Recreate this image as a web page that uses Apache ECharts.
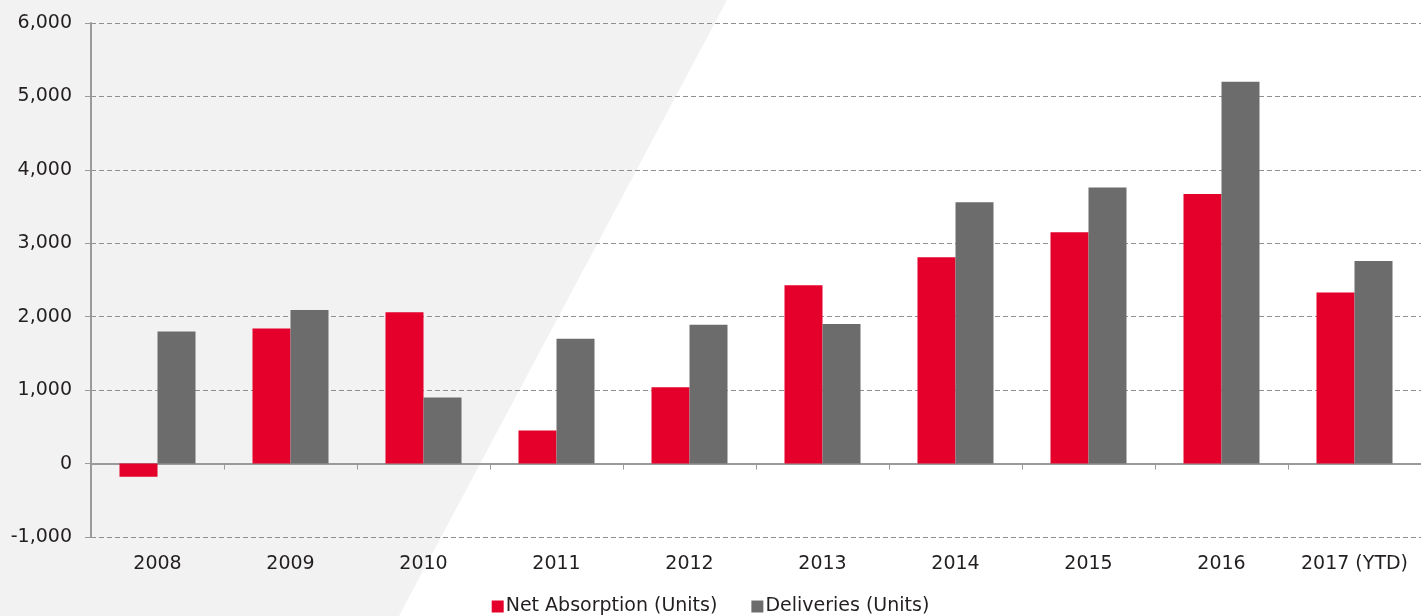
<!DOCTYPE html>
<html>
<head>
<meta charset="utf-8">
<script src="https://cdn.jsdelivr.net/npm/echarts@6/dist/echarts.min.js"></script>
<style>
html,body{margin:0;padding:0;background:#fff;}
#chart{width:1421px;height:616px;}
</style>
</head>
<body>
<div id="chart"></div>
<script>
const categories = ['2008','2009','2010','2011','2012','2013','2014','2015','2016','2017 (YTD)'];
const netAbsorption = [-180, 1840, 2060, 450, 1040, 2430, 2810, 3150, 3670, 2330];
const deliveries = [1800, 2090, 900, 1700, 1890, 1900, 3560, 3760, 5200, 2760];
const seriesNames = ['Net Absorption (Units)', 'Deliveries (Units)'];

const FONT = 'DejaVu Sans';
const FS = 19;
const TXT = '#231f20';
const chart = echarts.init(document.getElementById('chart'), null, {renderer:'canvas'});
chart.setOption({
  animation:false,
  backgroundColor:'#ffffff',
  graphic:[{
    type:'polygon', z:-10, silent:true,
    shape:{points:[[0,0],[727,0],[399,616],[0,616]]},
    style:{fill:'#f2f2f2'}
  }],
  legend:{
    top:597, left:'center', padding:0,
    itemWidth:12, itemHeight:12, itemGap:34, icon:'rect',
    textStyle:{fontFamily:FONT, fontSize:FS, color:TXT, padding:[0,0,0,-3]},
    data:seriesNames
  },
  grid:{left:91, right:0, top:23, bottom:79, containLabel:false},
  xAxis:[{
    type:'category', data:categories, position:'bottom',
    axisLine:{show:false, onZero:false},
    axisTick:{show:false},
    axisLabel:{fontFamily:FONT, fontSize:FS, color:TXT, margin:18, interval:0},
    splitLine:{show:false}
  },{
    type:'category', data:categories, position:'bottom',
    axisLine:{show:true, onZero:true, lineStyle:{color:'#9a9a9a', width:2}},
    axisTick:{show:true, length:6, lineStyle:{color:'#9a9a9a', width:1}},
    axisLabel:{show:false},
    splitLine:{show:false}
  }],
  yAxis:{
    type:'value', min:-1000, max:6000, interval:1000,
    axisLine:{show:true, lineStyle:{color:'#9a9a9a', width:2}},
    axisTick:{show:true, length:6, lineStyle:{color:'#9a9a9a', width:1}},
    axisLabel:{fontFamily:FONT, fontSize:FS, color:TXT, margin:19,
      formatter:v=>v.toLocaleString('en-US')},
    splitLine:{show:true, lineStyle:{color:'#8f8f8f', type:[5,3], width:1}}
  },
  series:[{
    name:seriesNames[0], type:'bar', xAxisIndex:0, data:netAbsorption,
    barWidth:38, barGap:'0%', itemStyle:{color:'#e4002b'}
  },{
    name:seriesNames[1], type:'bar', xAxisIndex:0, data:deliveries,
    barWidth:38, barGap:'0%', itemStyle:{color:'#6b6c6b'}
  }]
});
</script>
</body>
</html>
